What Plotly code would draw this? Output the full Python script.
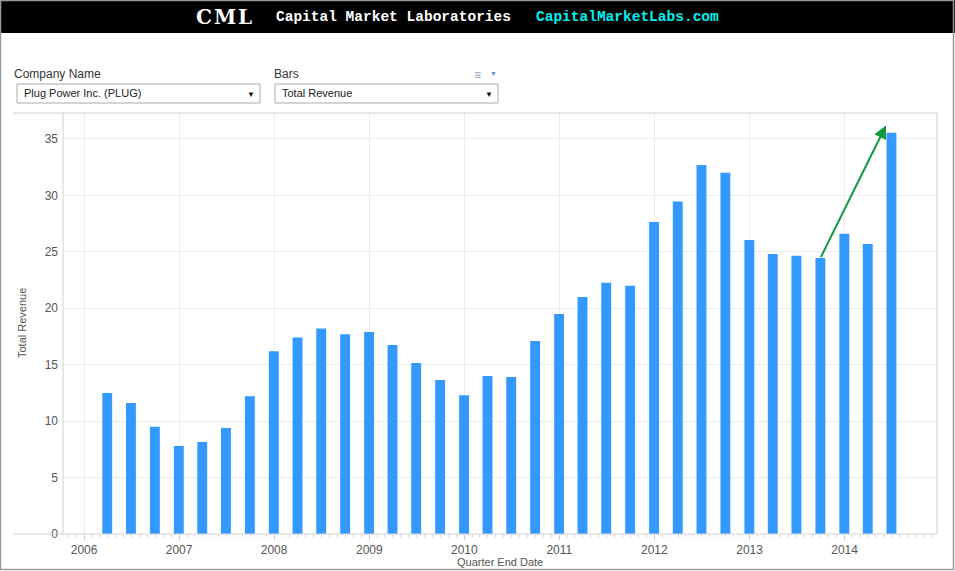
import plotly.graph_objects as go

# quarter end dates and total revenue ($M) for Plug Power
quarters = [
    "2006-03-31", "2006-06-30", "2006-09-30", "2006-12-31",
    "2007-03-31", "2007-06-30", "2007-09-30", "2007-12-31",
    "2008-03-31", "2008-06-30", "2008-09-30", "2008-12-31",
    "2009-03-31", "2009-06-30", "2009-09-30", "2009-12-31",
    "2010-03-31", "2010-06-30", "2010-09-30", "2010-12-31",
    "2011-03-31", "2011-06-30", "2011-09-30", "2011-12-31",
    "2012-03-31", "2012-06-30", "2012-09-30", "2012-12-31",
    "2013-03-31", "2013-06-30", "2013-09-30", "2013-12-31",
    "2014-03-31", "2014-06-30",
]
revenue = [
    12.5, 11.6, 9.5, 7.8,
    8.15, 9.4, 12.2, 16.2,
    17.4, 18.2, 17.7, 17.9,
    16.75, 15.15, 13.65, 12.3,
    14.0, 13.9, 17.1, 19.5,
    21.0, 22.25, 22.0, 27.65,
    29.45, 32.7, 32.0, 26.05,
    24.8, 24.65, 24.45, 26.6,
    25.7, 35.55,
]
y_ticks = [0, 5, 10, 15, 20, 25, 30, 35]
x_ticks = ["2006-01-01", "2007-01-01", "2008-01-01", "2009-01-01", "2010-01-01",
           "2011-01-01", "2012-01-01", "2013-01-01", "2014-01-01"]
x_tick_labels = ["2006", "2007", "2008", "2009", "2010", "2011", "2012", "2013", "2014"]

W, H = 955, 571
L, R, T, B = 63, 18, 113, 37
PW, PH = W - L - R, H - T - B


def px(x):
    return (x - L) / PW


def py(y):
    return (H - B - y) / PH


fig = go.Figure()
fig.add_bar(
    x=quarters, y=revenue,
    width=38 * 86400000,
    marker=dict(color="#3399ff", line=dict(width=0)),
    hovertemplate="%{x}<br>Total Revenue: %{y}<extra></extra>",
)

grid = "#ececec"
frame = "#d0d0d0"
fig.update_layout(
    width=W, height=H,
    margin=dict(l=L, r=R, t=T, b=B),
    paper_bgcolor="white", plot_bgcolor="white",
    showlegend=False,
    font=dict(family="Arial, Liberation Sans", size=12, color="#555"),
    xaxis=dict(
        type="date", range=["2005-10-12", "2014-12-22"],
        tickvals=x_ticks, ticktext=x_tick_labels,
        showgrid=True, gridcolor=grid, zeroline=False, showline=False,
        ticks="outside", ticklen=5, tickcolor=frame,
        minor=dict(ticks="outside", dtick="M1", ticklen=2, tickcolor=frame, showgrid=False),
        tickfont=dict(size=12, color="#555"),
    ),
    yaxis=dict(
        range=[0, 37.3], tickvals=y_ticks,
        showgrid=True, gridcolor=grid, zeroline=False, showline=False,
        ticks="", ticklabelstandoff=4,
        tickfont=dict(size=12, color="#555"),
    ),
)

shapes = [
    # header bar
    dict(type="rect", xref="paper", yref="paper", x0=px(0), x1=px(W), y0=py(33), y1=py(0),
         fillcolor="black", line=dict(width=0), layer="above"),
    # pane frame lines
    dict(type="line", xref="paper", yref="paper", x0=px(13), x1=px(937), y0=py(113), y1=py(113),
         line=dict(color=frame, width=1)),
    dict(type="line", xref="paper", yref="paper", x0=px(13), x1=px(937), y0=py(534), y1=py(534),
         line=dict(color=frame, width=1)),
    dict(type="line", xref="paper", yref="paper", x0=0, x1=0, y0=0, y1=1,
         line=dict(color=frame, width=1)),
    dict(type="line", xref="paper", yref="paper", x0=1, x1=1, y0=0, y1=1,
         line=dict(color=frame, width=1)),
    # outer border
    dict(type="rect", xref="paper", yref="paper", x0=px(0.5), x1=px(W - 1.5), y0=py(H - 1.5), y1=py(0.5),
         line=dict(color="#999", width=1.5), fillcolor="rgba(0,0,0,0)"),
    # dropdown boxes
    dict(type="rect", xref="paper", yref="paper", x0=px(17), x1=px(260), y0=py(103), y1=py(84),
         line=dict(color="#aaa", width=1), fillcolor="white"),
    dict(type="rect", xref="paper", yref="paper", x0=px(275), x1=px(498), y0=py(103), y1=py(84),
         line=dict(color="#aaa", width=1), fillcolor="white"),
]
fig.update_layout(shapes=shapes)


def note(x, y, text, size=12, color="#333", family="Arial, Liberation Sans", xanchor="left", **kw):
    fig.add_annotation(x=px(x), y=py(y), xref="paper", yref="paper", text=text, showarrow=False,
                       xanchor=xanchor, yanchor="middle",
                       font=dict(size=size, color=color, family=family), **kw)


# header
note(194, 17, "<b><span style='letter-spacing:2px'>CML</span></b>", size=20, color="white",
     family="DejaVu Serif")
note(274, 17, "<b>Capital Market Laboratories</b>", size=14.5, color="white", family="Liberation Mono")
note(534, 17, "<b>CapitalMarketLabs.com</b>", size=14.5, color="#00f0f0", family="Liberation Mono")

# filter controls
note(12, 74, "Company Name", size=12, color="#333")
note(272, 74, "Bars", size=12, color="#333")
note(22, 93, "Plug Power Inc. (PLUG)", size=11, color="#222")
note(280, 93, "Total Revenue", size=11, color="#222")
note(251, 94, "▼", size=8, color="#111", xanchor="center")
note(489, 94, "▼", size=8, color="#111", xanchor="center")
note(477, 75, "≡", size=12, color="#9aa6b8", xanchor="center")
note(493, 74, "▼", size=7, color="#6d8fbf", xanchor="center")

# axis titles
note(500, 562, "Quarter End Date", size=11, color="#555", xanchor="center")
note(22, 323, "Total Revenue", size=11, color="#555", xanchor="center", textangle=-90)

# green trend arrow
fig.add_annotation(
    x="2014-06-09", y=36.2, ax="2013-09-29", ay=24.4,
    xref="x", yref="y", axref="x", ayref="y",
    text="", showarrow=True, arrowhead=2, arrowsize=1.3, arrowwidth=2, arrowcolor="#109a3c",
)

fig.write_html("out.html", config={"displayModeBar": False},
               post_script="document.body.style.margin='0px';")
